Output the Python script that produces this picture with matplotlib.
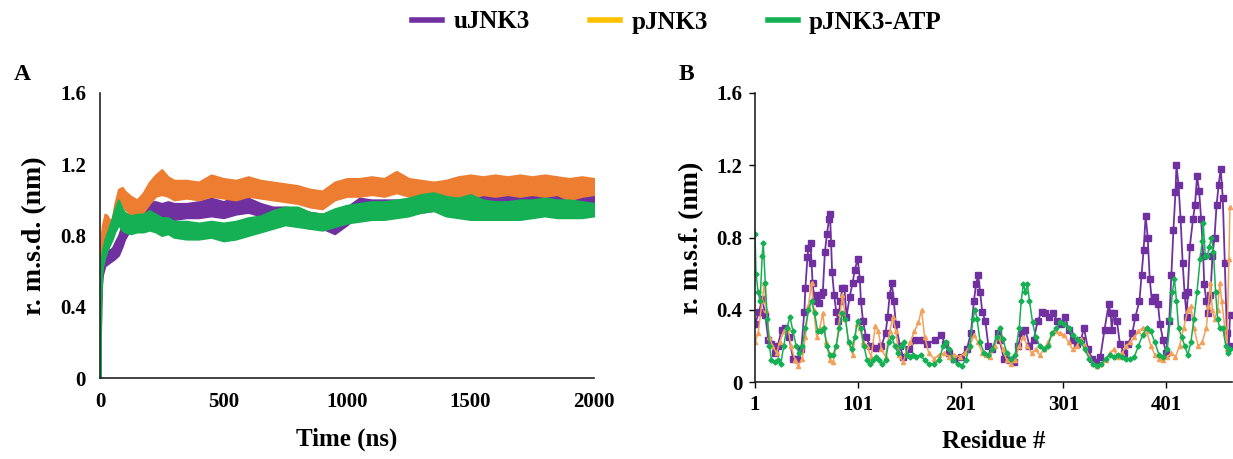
import matplotlib
matplotlib.use("Agg")
import matplotlib.pyplot as plt
from matplotlib.lines import Line2D

plt.rcParams['font.family'] = ['Liberation Serif', 'DejaVu Serif']
plt.rcParams['font.weight'] = 'bold'

# ---------------- Panel A data (r.m.s.d. band envelopes) ----------------
time_ns = [0, 2, 5, 10, 20, 30, 40, 50, 60, 75, 90, 100, 125, 150, 175, 200, 225, 250, 275, 300,
           350, 400, 450, 500, 550, 600, 650, 700, 750, 800, 850, 900, 950, 1000, 1050, 1100,
           1150, 1200, 1250, 1300, 1350, 1400, 1450, 1500, 1550, 1600, 1650, 1700, 1750, 1800,
           1850, 1900, 1950, 2000]

u_low = [0.00, 0.25, 0.50, 0.58, 0.63, 0.64, 0.65, 0.66, 0.67, 0.69, 0.74, 0.78, 0.84, 0.87, 0.89, 0.90,
         0.91, 0.90, 0.90, 0.89, 0.90, 0.90, 0.91, 0.90, 0.92, 0.93, 0.91, 0.88, 0.87, 0.86, 0.84, 0.84,
         0.81, 0.86, 0.92, 0.92, 0.92, 0.93, 0.92, 0.93, 0.94, 0.94, 0.95, 0.94, 0.95, 0.95, 0.95, 0.96,
         0.95, 0.96, 0.95, 0.96, 0.95, 0.96]
u_high = [0.05, 0.40, 0.60, 0.68, 0.72, 0.72, 0.72, 0.73, 0.76, 0.80, 0.86, 0.88, 0.93, 0.95, 0.97, 0.99,
          0.99, 0.98, 0.99, 0.98, 0.98, 0.99, 1.01, 0.99, 1.02, 1.01, 0.98, 0.96, 0.96, 0.95, 0.93, 0.92,
          0.93, 0.96, 1.01, 1.00, 1.00, 1.00, 1.00, 1.02, 1.02, 1.01, 1.02, 1.03, 1.02, 1.03, 1.02, 1.03,
          1.03, 1.04, 1.02, 1.04, 1.03, 1.03]

p_low = [0.15, 0.55, 0.68, 0.74, 0.78, 0.78, 0.76, 0.80, 0.86, 0.96, 0.97, 0.95, 0.92, 0.90, 0.93, 0.98,
         1.02, 1.03, 1.02, 1.00, 1.01, 1.00, 1.02, 1.01, 1.00, 1.02, 1.01, 1.00, 0.99, 0.98, 0.96, 0.95,
         1.00, 1.02, 1.02, 1.03, 1.02, 1.04, 1.02, 1.01, 0.99, 1.01, 1.02, 1.01, 1.03, 1.02, 1.03, 1.02,
         1.03, 1.02, 1.03, 1.00, 1.02, 1.03]
p_high = [0.25, 0.70, 0.80, 0.86, 0.92, 0.91, 0.88, 0.90, 0.98, 1.06, 1.07, 1.05, 1.02, 1.00, 1.04, 1.10,
          1.14, 1.17, 1.13, 1.11, 1.11, 1.10, 1.14, 1.12, 1.11, 1.13, 1.11, 1.10, 1.09, 1.08, 1.06, 1.05,
          1.10, 1.12, 1.12, 1.13, 1.12, 1.16, 1.12, 1.11, 1.10, 1.11, 1.13, 1.14, 1.13, 1.14, 1.13, 1.14,
          1.13, 1.14, 1.13, 1.12, 1.13, 1.12]

a_low = [0.00, 0.30, 0.55, 0.62, 0.68, 0.72, 0.75, 0.78, 0.82, 0.86, 0.83, 0.82, 0.81, 0.82, 0.82, 0.83,
         0.82, 0.80, 0.81, 0.79, 0.78, 0.78, 0.79, 0.77, 0.78, 0.80, 0.82, 0.84, 0.86, 0.85, 0.84, 0.83,
         0.85, 0.87, 0.88, 0.89, 0.89, 0.90, 0.91, 0.93, 0.94, 0.91, 0.90, 0.89, 0.89, 0.89, 0.89, 0.89,
         0.90, 0.91, 0.90, 0.90, 0.90, 0.91]
a_high = [0.05, 0.45, 0.66, 0.72, 0.78, 0.82, 0.86, 0.90, 0.95, 1.00, 0.95, 0.93, 0.91, 0.92, 0.92, 0.94,
          0.92, 0.90, 0.90, 0.88, 0.88, 0.87, 0.88, 0.87, 0.88, 0.90, 0.91, 0.94, 0.96, 0.96, 0.93, 0.92,
          0.95, 0.97, 0.98, 0.99, 0.99, 1.00, 1.01, 1.03, 1.04, 1.02, 1.01, 1.03, 1.00, 0.99, 0.99, 1.00,
          1.00, 1.01, 1.00, 1.00, 0.99, 0.98]

# ---------------- Panel B data (r.m.s.f. per residue) ----------------
u_res = [1, 5, 8, 11, 14, 17, 20, 23, 27, 30, 34, 38, 42, 46, 49, 50, 52, 53, 55, 56, 57, 59, 61, 63, 65,
         67, 69, 71, 73, 74, 75, 76, 78, 80, 82, 84, 86, 88, 90, 93, 96, 98, 101, 103, 104, 106, 109,
         113, 119, 124, 128, 130, 132, 134, 136, 138, 142, 145, 151, 157, 163, 168, 176, 182, 186, 190,
         195, 201, 207, 211, 214, 216, 218, 220, 222, 225, 228, 232, 237, 239, 243, 249, 253, 257, 260,
         264, 268, 272, 276, 280, 283, 287, 291, 295, 299, 303, 306, 310, 314, 318, 321, 325, 329, 333,
         337, 341, 345, 347, 348, 350, 353, 356, 360, 364, 368, 371, 375, 377, 379, 381, 383, 385, 387,
         390, 393, 395, 398, 401, 404, 406, 408, 410, 411, 413, 415, 417, 419, 421, 422, 424, 427, 429,
         431, 433, 435, 437, 438, 440, 442, 444, 446, 448, 450, 452, 454, 456, 458, 460, 462, 463]
u_rmsf = [0.32, 0.39, 0.46, 0.37, 0.23, 0.21, 0.16, 0.20, 0.29, 0.30, 0.25, 0.13, 0.13, 0.18, 0.39, 0.52,
          0.69, 0.74, 0.77, 0.66, 0.55, 0.45, 0.48, 0.44, 0.48, 0.50, 0.72, 0.82, 0.90, 0.93, 0.77, 0.61,
          0.48, 0.39, 0.34, 0.45, 0.52, 0.52, 0.36, 0.47, 0.55, 0.62, 0.68, 0.57, 0.45, 0.34, 0.25, 0.20,
          0.19, 0.20, 0.27, 0.36, 0.48, 0.55, 0.45, 0.32, 0.20, 0.14, 0.18, 0.23, 0.23, 0.21, 0.23, 0.26,
          0.21, 0.16, 0.13, 0.14, 0.18, 0.27, 0.45, 0.54, 0.59, 0.50, 0.39, 0.34, 0.20, 0.18, 0.27, 0.23,
          0.13, 0.12, 0.11, 0.20, 0.27, 0.29, 0.20, 0.23, 0.34, 0.39, 0.38, 0.36, 0.38, 0.34, 0.32, 0.36,
          0.29, 0.23, 0.21, 0.23, 0.30, 0.18, 0.13, 0.11, 0.14, 0.29, 0.43, 0.38, 0.29, 0.38, 0.34, 0.21,
          0.16, 0.21, 0.27, 0.36, 0.45, 0.59, 0.73, 0.92, 0.80, 0.57, 0.45, 0.47, 0.43, 0.32, 0.23, 0.16,
          0.34, 0.59, 0.84, 1.05, 1.20, 1.09, 0.90, 0.66, 0.48, 0.36, 0.50, 0.75, 0.90, 0.98, 1.14, 1.06,
          0.90, 0.70, 0.54, 0.45, 0.38, 0.48, 0.70, 0.80, 0.98, 1.09, 1.18, 1.02, 0.66, 0.27, 0.20, 0.37]

p_res = [1, 4, 8, 10, 12, 15, 18, 22, 25, 29, 33, 36, 40, 43, 47, 50, 53, 56, 58, 61, 64, 67, 70, 74, 77,
         80, 84, 86, 89, 92, 96, 100, 103, 106, 110, 114, 118, 121, 124, 128, 132, 135, 138, 141, 145,
         148, 152, 156, 160, 163, 166, 170, 175, 180, 185, 190, 195, 200, 205, 210, 214, 218, 222, 226,
         230, 234, 238, 242, 246, 250, 254, 258, 262, 266, 270, 274, 278, 282, 286, 290, 294, 298, 302,
         306, 310, 314, 318, 322, 326, 330, 334, 338, 342, 346, 350, 354, 358, 362, 366, 370, 374, 378,
         382, 386, 390, 394, 398, 402, 406, 410, 414, 418, 422, 425, 428, 432, 436, 440, 442, 444, 446,
         448, 451, 453, 455, 458, 460, 462, 463]
p_rmsf = [0.22, 0.27, 0.45, 0.55, 0.40, 0.25, 0.20, 0.16, 0.22, 0.28, 0.30, 0.20, 0.12, 0.09, 0.13, 0.25,
          0.42, 0.55, 0.40, 0.25, 0.30, 0.38, 0.22, 0.12, 0.11, 0.20, 0.38, 0.48, 0.35, 0.22, 0.15, 0.32,
          0.30, 0.22, 0.20, 0.14, 0.31, 0.28, 0.18, 0.14, 0.28, 0.36, 0.28, 0.15, 0.11, 0.16, 0.22, 0.28,
          0.33, 0.40, 0.25, 0.16, 0.13, 0.15, 0.16, 0.14, 0.15, 0.14, 0.16, 0.20, 0.26, 0.22, 0.16, 0.15,
          0.14, 0.20, 0.25, 0.18, 0.12, 0.10, 0.12, 0.20, 0.25, 0.20, 0.16, 0.18, 0.15, 0.18, 0.22, 0.27,
          0.28, 0.27, 0.26, 0.22, 0.18, 0.20, 0.24, 0.20, 0.14, 0.10, 0.09, 0.10, 0.12, 0.16, 0.18, 0.14,
          0.16, 0.20, 0.22, 0.25, 0.28, 0.30, 0.28, 0.20, 0.15, 0.13, 0.12, 0.14, 0.16, 0.14, 0.20, 0.30,
          0.40, 0.42, 0.30, 0.20, 0.22, 0.30, 0.42, 0.55, 0.40, 0.35, 0.40, 0.55, 0.45, 0.30, 0.18, 0.68,
          0.97]

a_res = [1, 2, 4, 6, 8, 9, 11, 13, 15, 17, 20, 23, 26, 29, 32, 35, 38, 41, 44, 47, 50, 53, 56, 59, 62,
         65, 68, 71, 74, 77, 80, 83, 86, 89, 92, 95, 98, 101, 104, 107, 110, 113, 116, 119, 122, 125,
         128, 131, 134, 137, 140, 143, 146, 149, 152, 155, 158, 162, 166, 170, 175, 180, 184, 187, 190,
         194, 198, 202, 206, 210, 213, 215, 217, 220, 224, 228, 232, 236, 239, 242, 246, 250, 254, 258,
         260, 262, 264, 266, 268, 271, 274, 278, 282, 286, 290, 294, 298, 302, 306, 310, 314, 318, 322,
         326, 330, 334, 338, 342, 346, 350, 354, 358, 362, 366, 370, 374, 378, 382, 386, 390, 394, 398,
         402, 405, 407, 409, 411, 413, 416, 419, 422, 425, 428, 431, 434, 436, 437, 439, 441, 443, 445,
         447, 449, 451, 453, 456, 459, 461, 463]
a_rmsf = [0.82, 0.60, 0.50, 0.45, 0.70, 0.77, 0.55, 0.35, 0.20, 0.12, 0.11, 0.12, 0.10, 0.20, 0.30, 0.36,
          0.28, 0.20, 0.16, 0.20, 0.30, 0.40, 0.45, 0.38, 0.28, 0.28, 0.30, 0.20, 0.15, 0.15, 0.20, 0.30,
          0.38, 0.35, 0.22, 0.18, 0.25, 0.34, 0.30, 0.20, 0.12, 0.10, 0.12, 0.14, 0.12, 0.10, 0.12, 0.22,
          0.25, 0.20, 0.16, 0.20, 0.22, 0.15, 0.14, 0.15, 0.14, 0.15, 0.12, 0.10, 0.10, 0.12, 0.20, 0.22,
          0.18, 0.12, 0.10, 0.09, 0.12, 0.20, 0.35, 0.40, 0.35, 0.22, 0.16, 0.15, 0.18, 0.25, 0.30, 0.24,
          0.16, 0.13, 0.15, 0.30, 0.45, 0.54, 0.50, 0.54, 0.45, 0.33, 0.25, 0.20, 0.18, 0.20, 0.27, 0.30,
          0.33, 0.32, 0.30, 0.26, 0.24, 0.22, 0.18, 0.13, 0.10, 0.09, 0.10, 0.13, 0.15, 0.14, 0.15, 0.14,
          0.13, 0.13, 0.14, 0.20, 0.26, 0.30, 0.28, 0.22, 0.15, 0.14, 0.18, 0.35, 0.50, 0.57, 0.45, 0.30,
          0.25, 0.20, 0.15, 0.22, 0.35, 0.50, 0.68, 0.78, 0.88, 0.70, 0.70, 0.75, 0.80, 0.72, 0.50, 0.35,
          0.30, 0.30, 0.20, 0.16, 0.18]

series_names = ["uJNK3", "pJNK3", "pJNK3-ATP"]
c_purple = "#7030A0"
c_orange = "#ED7D31"
c_orange_b = "#F2A05A"
c_gold = "#FFC000"
c_green = "#14B053"

fig = plt.figure(figsize=(12.33, 4.59), dpi=100)

tick_fs = 15
xlabel_fs = 18
ylabel_fs = 20

# ---------- Panel A ----------
axA = fig.add_axes([100/1233, 1-378/459, 494/1233, 285/459])
axA.fill_between(time_ns, u_low, u_high, color=c_purple, linewidth=1.5, edgecolor=c_purple)
axA.fill_between(time_ns, p_low, p_high, color=c_orange, linewidth=1.5, edgecolor=c_orange)
axA.fill_between(time_ns, a_low, a_high, color=c_green, linewidth=1.5, edgecolor=c_green)
axA.set_xlim(0, 2000)
axA.set_ylim(0, 1.6)
axA.set_xticks([0, 500, 1000, 1500, 2000])
axA.set_yticks([0, 0.4, 0.8, 1.2, 1.6])
axA.set_yticklabels(["0", "0.4", "0.8", "1.2", "1.6"])
axA.tick_params(length=0, labelsize=tick_fs, pad=10)
axA.set_xlabel("Time (ns)", fontsize=xlabel_fs, fontweight='bold', labelpad=11)
axA.set_ylabel("r. m.s.d. (nm)", fontsize=ylabel_fs, fontweight='bold', labelpad=9)
for s in ["top", "right"]:
    axA.spines[s].set_visible(False)
for s in ["left", "bottom"]:
    axA.spines[s].set_linewidth(1.2)
    axA.spines[s].set_color("#222222")
fig.text(14/1233, 1-75/459, "A", fontsize=17, fontweight='bold', va='center', ha='left')

# ---------- Panel B ----------
axB = fig.add_axes([755/1233, 1-382/459, 477/1233, 289/459])
axB.plot(u_res, u_rmsf, color=c_purple, linewidth=1.3, marker='s', markersize=4.5)
axB.plot(p_res, p_rmsf, color=c_orange_b, linewidth=1.1, marker='^', markersize=3)
axB.plot(a_res, a_rmsf, color=c_green, linewidth=1.1, marker='D', markersize=2.6)
axB.set_xlim(1, 465)
axB.set_ylim(0, 1.6)
axB.set_xticks([1, 101, 201, 301, 401])
axB.set_yticks([0, 0.4, 0.8, 1.2, 1.6])
axB.set_yticklabels(["0", "0.4", "0.8", "1.2", "1.6"])
axB.tick_params(length=4, width=1, labelsize=tick_fs, pad=5)
axB.set_xlabel("Residue #", fontsize=xlabel_fs, fontweight='bold', labelpad=11)
axB.set_ylabel("r. m.s.f. (nm)", fontsize=ylabel_fs, fontweight='bold', labelpad=9)
for s in ["top", "right"]:
    axB.spines[s].set_visible(False)
for s in ["left", "bottom"]:
    axB.spines[s].set_linewidth(1.2)
    axB.spines[s].set_color("#222222")
fig.text(679/1233, 1-75/459, "B", fontsize=17, fontweight='bold', va='center', ha='left')

# ---------- Legend ----------
handles = [Line2D([], [], color=c_purple, linewidth=4),
           Line2D([], [], color=c_gold, linewidth=4),
           Line2D([], [], color=c_green, linewidth=4)]
fig.legend(handles, series_names, loc='center', bbox_to_anchor=(677/1233, 1-22/459), ncol=3,
           frameon=False, prop={'family': 'Liberation Serif', 'weight': 'bold', 'size': 18},
           handlelength=1.2, columnspacing=2.4, handletextpad=0.45)

fig.savefig("out.png", dpi=100)
